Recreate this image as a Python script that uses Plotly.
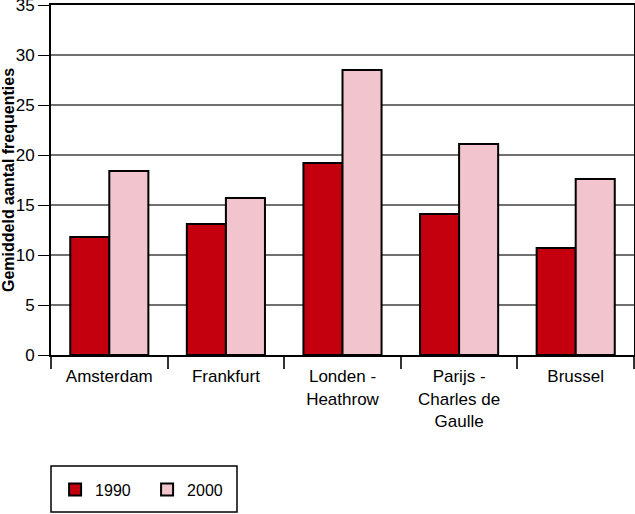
import plotly.graph_objects as go

categories = ["Amsterdam", "Frankfurt", "Londen -<br>Heathrow", "Parijs -<br>Charles de<br>Gaulle", "Brussel"]
values_1990 = [11.8, 13.1, 19.2, 14.1, 10.7]
values_2000 = [18.4, 15.7, 28.5, 21.1, 17.6]
y_ticks = [0, 5, 10, 15, 20, 25, 30, 35]

FONT = "Liberation Sans, Arial, sans-serif"

fig = go.Figure()
fig.add_trace(go.Bar(name="1990", x=categories, y=values_1990,
                     marker=dict(color="#c4000e", line=dict(color="black", width=2))))
fig.add_trace(go.Bar(name="2000", x=categories, y=values_2000,
                     marker=dict(color="#f2c4ce", line=dict(color="black", width=2))))

fig.update_layout(
    width=635, height=514,
    margin=dict(l=51, r=1, t=5, b=159, autoexpand=False),
    paper_bgcolor="white", plot_bgcolor="white",
    barmode="group", bargap=0.33, bargroupgap=0,
    font=dict(family=FONT, size=17, color="black"),
    showlegend=True,
    legend=dict(orientation="h", x=0.007, xanchor="left", y=-0.336, yanchor="top",
                entrywidth=47, entrywidthmode="pixels",
                font=dict(family=FONT, size=16, color="black"),
                borderwidth=0, bgcolor="rgba(0,0,0,0)"),
    xaxis=dict(showline=True, linecolor="black", linewidth=2, mirror=True,
               ticks="outside", tickson="boundaries", ticklen=12, tickcolor="#333",
               tickwidth=1.5, showgrid=False, tickfont=dict(size=17), automargin=False,
               ticklabelstandoff=5),
    yaxis=dict(range=[0, 35], tickvals=y_ticks, showline=True, linecolor="black",
               linewidth=2, mirror=True, ticks="outside", ticklen=11, tickcolor="black",
               tickwidth=1.2, showgrid=True, gridcolor="#707070", gridwidth=1.5,
               zeroline=False, tickfont=dict(size=17), automargin=False,
               ticklabeloverflow="allow",
               title=dict(text="<b>Gemiddeld aantal frequenties</b>", standoff=4,
                          font=dict(size=16))),
)

fig.add_shape(type="rect", xref="paper", yref="paper",
              x0=0.0, x1=(237 - 51) / 583, y0=(355 - 512) / 350, y1=(355 - 466) / 350,
              line=dict(color="black", width=1.5), fillcolor="rgba(0,0,0,0)")

fig.write_html("out.html", config={"displayModeBar": False},
               post_script="document.body.style.margin='0';document.body.style.overflow='hidden';")
